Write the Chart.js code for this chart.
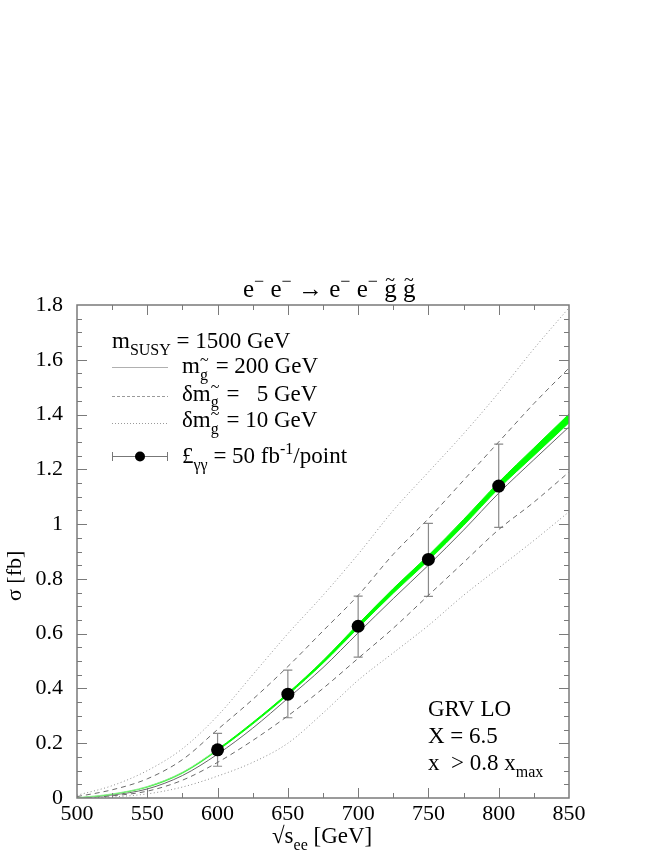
<!DOCTYPE html>
<html>
<head>
<meta charset="utf-8">
<script src="https://cdn.jsdelivr.net/npm/chart.js@4.4.0/dist/chart.umd.min.js"></script>
<style>
body { margin: 0; background: #fff; }
#wrap { width: 664px; height: 860px; }
</style>
</head>
<body>
<div id="wrap"><canvas id="c" width="664" height="860"></canvas></div>
<script>
'use strict';

// sqrt(s_ee) in GeV
var energies = [500, 525, 550, 575, 600, 625, 650, 675, 700, 725, 750, 775, 800, 825, 850];
// sigma in fb
var sigmaCentral = [0, 0.011, 0.033, 0.082, 0.16, 0.255, 0.364, 0.476, 0.603, 0.728, 0.85, 0.978, 1.113, 1.235, 1.355];
var bandLow = [0, 0.013, 0.039, 0.09, 0.173, 0.27, 0.376, 0.492, 0.621, 0.748, 0.867, 0.995, 1.13, 1.25, 1.37];
var bandHigh = [0.001, 0.015, 0.042, 0.094, 0.178, 0.276, 0.383, 0.502, 0.635, 0.765, 0.886, 1.017, 1.153, 1.278, 1.402];
var plus5 = [0.005, 0.03, 0.07, 0.14, 0.25, 0.36, 0.48, 0.61, 0.74, 0.89, 1.02, 1.16, 1.30, 1.44, 1.57];
var minus5 = [0, 0.008, 0.025, 0.065, 0.13, 0.21, 0.30, 0.40, 0.51, 0.62, 0.74, 0.86, 0.98, 1.08, 1.19];
var plus10 = [0.01, 0.045, 0.10, 0.18, 0.30, 0.45, 0.60, 0.74, 0.89, 1.05, 1.19, 1.33, 1.48, 1.64, 1.79];
var minus10 = [0, 0.004, 0.015, 0.04, 0.08, 0.13, 0.20, 0.31, 0.43, 0.53, 0.63, 0.74, 0.84, 0.94, 1.045];

// simulated measurements
var pointE = [600, 650, 700, 750, 800];
var pointSigma = [0.176, 0.379, 0.627, 0.871, 1.139];
var pointLow = [0.116, 0.293, 0.514, 0.736, 0.988];
var pointHigh = [0.236, 0.467, 0.737, 1.003, 1.292];

var xTicks = [500, 550, 600, 650, 700, 750, 800, 850];
var yTicks = [0, 0.2, 0.4, 0.6, 0.8, 1, 1.2, 1.4, 1.6, 1.8];

var FONT = '"Liberation Serif", "DejaVu Serif", serif';

function xy(xs, ys) {
    var out = [];
    for (var i = 0; i < xs.length; i++) out.push({ x: xs[i], y: ys[i] });
    return out;
}

function curve(data, color, dash, order) {
    return {
        data: data, borderColor: color, borderWidth: 1, borderDash: dash || [],
        pointRadius: 0, fill: false, cubicInterpolationMode: 'monotone', order: order
    };
}

// green is pale below 600 GeV in the original
function greenSeg(c) {
    return c.p1.parsed.x <= 600 ? '#8fe88f' : undefined;
}

// text with sub/superscripts: parts = [[text, kind], ...]
function richText(ctx, x, y, parts, size) {
    var small = Math.round(size * 0.7);
    for (var i = 0; i < parts.length; i++) {
        var t = parts[i][0], k = parts[i][1];
        if (k === 'n') {
            ctx.font = size + 'px ' + FONT;
            ctx.fillText(t, x, y);
            x += ctx.measureText(t).width;
        } else if (k === 'sub') {
            ctx.font = small + 'px ' + FONT;
            ctx.fillText(t, x, y + size * 0.3);
            x += ctx.measureText(t).width;
        } else if (k === 'sup') {
            ctx.font = small + 'px ' + FONT;
            ctx.fillText(t, x, y - size * 0.4);
            x += ctx.measureText(t).width;
        } else if (k === 'gsub') {
            // subscript g with a tilde above it
            ctx.font = small + 'px ' + FONT;
            var w = ctx.measureText('g').width;
            ctx.fillText('g', x, y + size * 0.3);
            ctx.fillText('~', x, y - size * 0.35);
            x += w + 2;
        } else if (k === 'gt') {
            // normal g with tilde raised
            ctx.font = size + 'px ' + FONT;
            var w2 = ctx.measureText('g').width;
            ctx.fillText('g', x, y);
            ctx.font = small + 'px ' + FONT;
            ctx.fillText('~', x + 1, y - size * 0.45);
            x += w2;
        }
    }
    return x;
}

var decorPlugin = {
    id: 'decor',
    beforeDatasetsDraw: function (chart) {
        var ctx = chart.ctx, xs = chart.scales.x, ys = chart.scales.y;
        ctx.save();
        ctx.strokeStyle = '#8a8a8a';
        ctx.lineWidth = 1.2;
        for (var i = 0; i < pointE.length; i++) {
            var px = xs.getPixelForValue(pointE[i]);
            var lo = ys.getPixelForValue(pointLow[i]);
            var hi = ys.getPixelForValue(pointHigh[i]);
            ctx.beginPath();
            ctx.moveTo(px, lo); ctx.lineTo(px, hi);
            ctx.moveTo(px - 4.5, lo); ctx.lineTo(px + 4.5, lo);
            ctx.moveTo(px - 4.5, hi); ctx.lineTo(px + 4.5, hi);
            ctx.stroke();
        }
        ctx.restore();
    },
    afterDraw: function (chart) {
        var ctx = chart.ctx, a = chart.chartArea, xs = chart.scales.x, ys = chart.scales.y;
        ctx.save();
        // frame and ticks on all four sides
        ctx.strokeStyle = '#7a7a7a';
        ctx.lineWidth = 1.5;
        ctx.strokeRect(a.left, a.top, a.right - a.left, a.bottom - a.top);
        ctx.lineWidth = 1;
        ctx.beginPath();
        for (var v = 525; v < 850; v += 25) {
            var px = Math.round(xs.getPixelForValue(v)) + 0.5;
            var len = v % 50 === 0 ? 10 : 5;
            ctx.moveTo(px, a.bottom); ctx.lineTo(px, a.bottom - len);
            ctx.moveTo(px, a.top); ctx.lineTo(px, a.top + len);
        }
        for (var j = 1; j < 36; j++) {
            var py = Math.round(ys.getPixelForValue(j * 0.05)) + 0.5;
            var l2 = j % 4 === 0 ? 10 : 5;
            ctx.moveTo(a.left, py); ctx.lineTo(a.left + l2, py);
            ctx.moveTo(a.right, py); ctx.lineTo(a.right - l2, py);
        }
        ctx.stroke();

        ctx.fillStyle = '#000';
        ctx.textBaseline = 'alphabetic';
        ctx.textAlign = 'left';

        // title
        richText(ctx, 243, 297, [['e', 'n'], ['\u2212', 'sup'], [' e', 'n'], ['\u2212', 'sup'],
            [' \u2192 e', 'n'], ['\u2212', 'sup'], [' e', 'n'], ['\u2212', 'sup'], [' ', 'n'],
            ['g', 'gt'], [' ', 'n'], ['g', 'gt']], 25);

        // legend
        var lx = 112, tx = 182;
        richText(ctx, lx, 348, [['m', 'n'], ['SUSY', 'sub'], [' = 1500 GeV', 'n']], 23);

        ctx.lineWidth = 1;
        ctx.strokeStyle = '#b0b0b0';
        ctx.setLineDash([]);
        ctx.beginPath(); ctx.moveTo(lx, 367.5); ctx.lineTo(168, 367.5); ctx.stroke();
        richText(ctx, tx, 373, [['m', 'n'], ['g', 'gsub'], [' = 200 GeV', 'n']], 23);

        ctx.strokeStyle = '#9a9a9a';
        ctx.setLineDash([3, 2]);
        ctx.beginPath(); ctx.moveTo(lx, 396.5); ctx.lineTo(168, 396.5); ctx.stroke();
        richText(ctx, tx, 400.5, [['\u03b4m', 'n'], ['g', 'gsub'], [' =   5 GeV', 'n']], 23);

        ctx.setLineDash([1, 2]);
        ctx.beginPath(); ctx.moveTo(lx, 423.5); ctx.lineTo(168, 423.5); ctx.stroke();
        richText(ctx, tx, 427, [['\u03b4m', 'n'], ['g', 'gsub'], [' = 10 GeV', 'n']], 23);

        ctx.setLineDash([]);
        ctx.strokeStyle = '#777';
        ctx.beginPath();
        ctx.moveTo(lx, 456.5); ctx.lineTo(168, 456.5);
        ctx.moveTo(lx + 0.5, 452); ctx.lineTo(lx + 0.5, 461);
        ctx.moveTo(167.5, 452); ctx.lineTo(167.5, 461);
        ctx.stroke();
        ctx.beginPath(); ctx.arc(140, 456.5, 5, 0, Math.PI * 2); ctx.fill();
        richText(ctx, tx, 463, [['\u00a3', 'n'], ['\u03b3\u03b3', 'sub'], [' = 50 fb', 'n'], ['-1', 'sup'], ['/point', 'n']], 23);

        // fit settings
        richText(ctx, 428, 716, [['GRV LO', 'n']], 23);
        richText(ctx, 428, 743, [['X = 6.5', 'n']], 23);
        richText(ctx, 428, 770, [['x  > 0.8 x', 'n'], ['max', 'sub']], 23);

        // axis titles
        richText(ctx, 272, 843, [['\u221as', 'n'], ['ee', 'sub'], [' [GeV]', 'n']], 23);
        ctx.translate(21, 601);
        ctx.rotate(-Math.PI / 2);
        richText(ctx, 0, 0, [['\u03c3 [fb]', 'n']], 22);
        ctx.restore();
    }
};

var ctx = document.getElementById('c').getContext('2d');
var chart = new Chart(ctx, {
    type: 'line',
    data: {
        datasets: [
            curve(xy(energies, plus10), '#8c8c8c', [1, 2.5], 6),
            curve(xy(energies, minus10), '#8c8c8c', [1, 2.5], 6),
            curve(xy(energies, plus5), '#6a6a6a', [5, 4], 5),
            curve(xy(energies, minus5), '#6a6a6a', [5, 4], 5),
            curve(xy(energies, sigmaCentral), '#666666', [], 4),
            {
                data: xy(energies, bandLow), borderColor: '#22ee22', borderWidth: 1,
                pointRadius: 0, fill: false, cubicInterpolationMode: 'monotone', order: 3,
                segment: { borderColor: greenSeg }
            },
            {
                data: xy(energies, bandHigh), borderColor: '#00ff00', borderWidth: 1,
                backgroundColor: '#00ff00', pointRadius: 0, fill: '-1', cubicInterpolationMode: 'monotone',
                order: 2, segment: { borderColor: greenSeg }
            },
            {
                data: xy(pointE, pointSigma), showLine: false, pointRadius: 6.5, order: 0,
                pointBackgroundColor: '#000', pointBorderColor: '#000', pointBorderWidth: 0
            }
        ]
    },
    options: {
        responsive: false,
        animation: false,
        devicePixelRatio: 1,
        layout: { padding: { left: 0, top: 305, right: 95, bottom: 22 } },
        plugins: { legend: { display: false }, title: { display: false }, tooltip: { enabled: false } },
        scales: {
            x: {
                type: 'linear', min: 500, max: 850,
                grid: { display: false, drawTicks: false },
                border: { display: false },
                afterFit: function (s) { s.height = 40; },
                afterBuildTicks: function (s) { s.ticks = xTicks.map(function (v) { return { value: v }; }); },
                ticks: { padding: 3, color: '#000', font: { family: FONT, size: 22 }, maxRotation: 0 }
            },
            y: {
                min: 0, max: 1.8,
                grid: { display: false, drawTicks: false },
                border: { display: false },
                afterFit: function (s) { s.width = 77; },
                afterBuildTicks: function (s) { s.ticks = yTicks.map(function (v) { return { value: v }; }); },
                ticks: {
                    padding: 14, color: '#000', font: { family: FONT, size: 22 },
                    callback: function (v) { return String(Math.round(v * 10) / 10); }
                }
            }
        }
    },
    plugins: [decorPlugin]
});
</script>
</body>
</html>
